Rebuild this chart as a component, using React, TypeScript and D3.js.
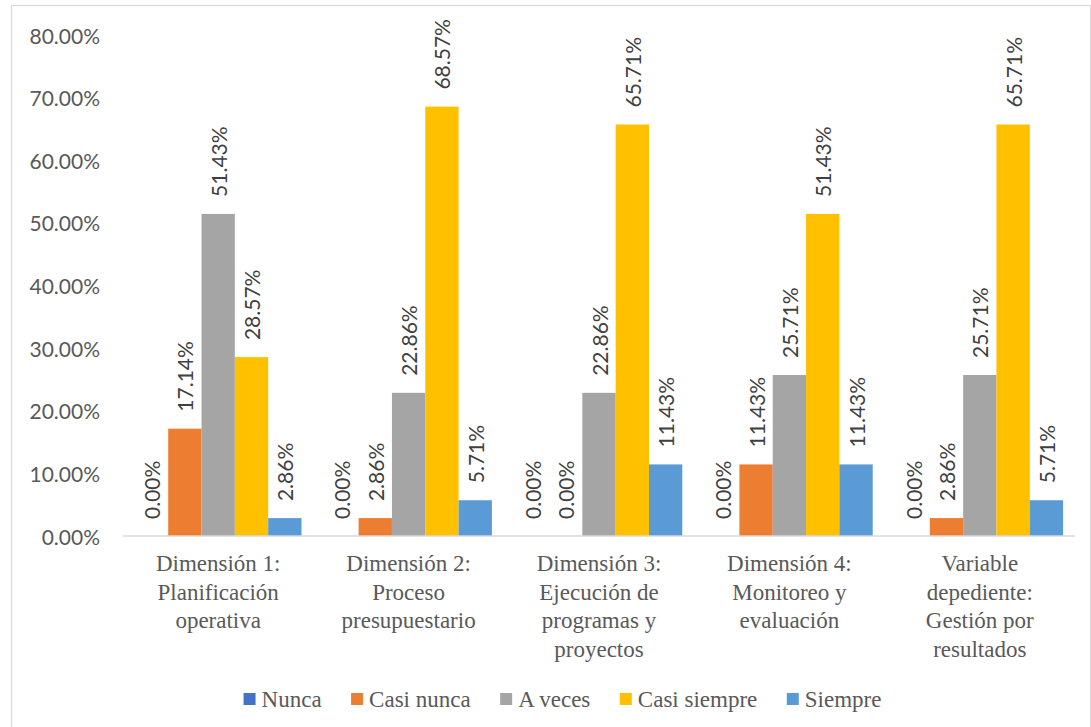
import React, { useEffect, useRef } from "react";
import * as d3 from "d3";

// Categories (multi-line axis labels)
const categories: string[][] = [
  ["Dimensión 1:", "Planificación", "operativa"],
  ["Dimensión 2:", "Proceso", "presupuestario"],
  ["Dimensión 3:", "Ejecución de", "programas y", "proyectos"],
  ["Dimensión 4:", "Monitoreo y", "evaluación"],
  ["Variable", "depediente:", "Gestión por", "resultados"],
];

const seriesNames = ["Nunca", "Casi nunca", "A veces", "Casi siempre", "Siempre"];
const seriesColors = ["#4472C4", "#ED7D31", "#A5A5A5", "#FFC000", "#5B9BD5"];

// Percentages per series, one value per category
const nunca = [0.0, 0.0, 0.0, 0.0, 0.0];
const casiNunca = [17.14, 2.86, 0.0, 11.43, 2.86];
const aVeces = [51.43, 22.86, 22.86, 25.71, 25.71];
const casiSiempre = [28.57, 68.57, 65.71, 51.43, 65.71];
const siempre = [2.86, 5.71, 11.43, 11.43, 5.71];

const seriesValues = [nunca, casiNunca, aVeces, casiSiempre, siempre];

const yTicks = [0, 10, 20, 30, 40, 50, 60, 70, 80];

const W = 1091;
const H = 727;
const SANS = "Lato, 'Open Sans', sans-serif";
const SERIF = "Liberation Serif, DejaVu Serif, serif";

export default function App() {
  const legendRef = useRef<SVGGElement>(null);

  const catKeys = categories.map((c) => c.join(" "));
  const x0 = d3
    .scaleBand<string>()
    .domain(catKeys)
    .range([123, 1075])
    .paddingInner(0.125)
    .paddingOuter(0.0625);
  const x1 = d3
    .scaleBand<string>()
    .domain(seriesNames)
    .range([0, x0.bandwidth()])
    .padding(0);
  const y = d3.scaleLinear().domain([0, 80]).range([536, 35]);

  // Lay out legend entries side by side, centred, using measured text widths
  useEffect(() => {
    const g = legendRef.current;
    if (!g) return;
    const layout = () => {
      const items = d3.select(g).selectAll<SVGGElement, unknown>("g.item").nodes();
      const sq = 12;
      const gapText = 6;
      const gapItem = 29.5;
      const widths = items.map((n) => {
        const t = n.querySelector("text") as SVGTextElement;
        return sq + gapText + t.getComputedTextLength();
      });
      const total = d3.sum(widths) + gapItem * (items.length - 1);
      let cx = 562.5 - total / 2;
      items.forEach((n, i) => {
        d3.select(n).attr("transform", `translate(${cx},0)`);
        cx += widths[i] + gapItem;
      });
    };
    layout();
    if ((document as any).fonts?.ready) (document as any).fonts.ready.then(layout);
  }, []);

  return (
    <svg
      width={W}
      height={H}
      style={{ position: "absolute", left: 0, top: 0, background: "#fff" }}
    >
      <rect x={11.5} y={5.5} width={1079} height={760} fill="#fff" stroke="#d9d9d9" strokeWidth={1.2} />

      {/* y-axis tick labels */}
      {yTicks.map((t) => (
        <text
          key={t}
          x={100}
          y={y(t)}
          textAnchor="end"
          dominantBaseline="central"
          style={{ fontFamily: SANS, fontSize: 21 }}
          fill="#595959"
        >
          {t.toFixed(2)}%
        </text>
      ))}

      {/* bars */}
      {catKeys.map((ck, ci) => (
        <g key={ck} transform={`translate(${x0(ck)},0)`}>
          {seriesNames.map((s, si) => {
            const v = seriesValues[si][ci];
            return (
              <rect
                key={s}
                x={x1(s)}
                y={y(v)}
                width={x1.bandwidth()}
                height={y(0) - y(v)}
                fill={seriesColors[si]}
              />
            );
          })}
        </g>
      ))}

      {/* category axis line */}
      <line x1={123} x2={1075} y1={y(0)} y2={y(0)} stroke="#d9d9d9" strokeWidth={1.5} />

      {/* data labels */}
      {catKeys.map((ck, ci) =>
        seriesNames.map((s, si) => {
          const v = seriesValues[si][ci];
          const cx = (x0(ck) as number) + (x1(s) as number) + x1.bandwidth() / 2;
          const ty = y(v) - 17;
          return (
            <text
              key={ck + s}
              transform={`translate(${cx},${ty}) rotate(-90)`}
              textAnchor="start"
              dominantBaseline="central"
              style={{ fontFamily: SANS, fontSize: 21 }}
              fill="#404040"
            >
              {v.toFixed(2)}%
            </text>
          );
        })
      )}

      {/* category labels */}
      {categories.map((lines, ci) => {
        const cx = (x0(catKeys[ci]) as number) + x0.bandwidth() / 2;
        return (
          <text
            key={ci}
            textAnchor="middle"
            style={{ fontFamily: SERIF, fontSize: 23 }}
            fill="#595959"
          >
            {lines.map((ln, li) => (
              <tspan key={li} x={cx} y={571 + li * 28.5}>
                {ln}
              </tspan>
            ))}
          </text>
        );
      })}

      {/* legend */}
      <g ref={legendRef}>
        {seriesNames.map((s, si) => (
          <g className="item" key={s}>
            <rect x={0} y={693} width={12} height={12} fill={seriesColors[si]} />
            <text
              x={18}
              y={707}
              style={{ fontFamily: SERIF, fontSize: 23 }}
              fill="#595959"
            >
              {s}
            </text>
          </g>
        ))}
      </g>
    </svg>
  );
}
